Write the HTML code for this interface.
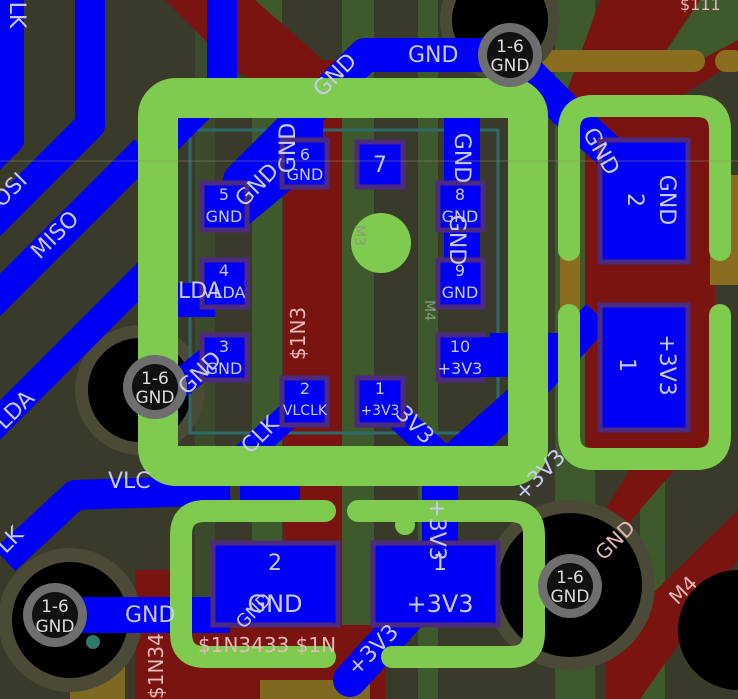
<!DOCTYPE html>
<html><head><meta charset="utf-8"><style>
html,body{margin:0;padding:0;background:#3a3a2b;}
svg{display:block;}
text{font-family:"DejaVu Sans","Liberation Sans",sans-serif;fill:#c9c9f2;}
</style></head><body>
<svg width="738" height="699" viewBox="0 0 738 699" xmlns="http://www.w3.org/2000/svg">
<rect width="738" height="699" fill="#3a3a2b"/>
<rect x="252" y="0" width="30" height="699" fill="#3e5a2d"/>
<rect x="342" y="0" width="32" height="699" fill="#3e5a2d"/>
<rect x="418" y="0" width="20" height="699" fill="#3e5a2d"/>
<rect x="195" y="0" width="20" height="699" fill="#3e5a2d" opacity="0.5"/>
<rect x="555" y="0" width="40" height="699" fill="#3e5a2d"/>
<rect x="640" y="420" width="25" height="279" fill="#3e5a2d"/>
<polygon points="165,0 255,0 340,75 300,110 235,70" fill="#7a1410"/>
<rect x="283" y="60" width="59" height="639" fill="#7a1410"/>
<polygon points="600,0 738,0 738,60 660,110 560,110" fill="#7a1410"/>
<rect x="585" y="110" width="130" height="340" fill="#7a1410"/>
<polygon points="700,0 738,0 738,40 700,60 660,60" fill="#3e5a2d"/>
<polygon points="630,470 660,440 700,440 580,580 560,580" fill="#7a1410"/>
<polygon points="738,510 738,560 640,699 605,699 605,640" fill="#7a1410"/>
<rect x="135" y="570" width="50" height="129" fill="#7a1410"/>
<rect x="185" y="625" width="200" height="74" fill="#7a1410"/>
<rect x="540" y="50" width="165" height="22" rx="11" fill="#8a6d1e"/>
<rect x="715" y="50" width="30" height="22" rx="11" fill="#8a6d1e"/>
<rect x="560" y="175" width="20" height="210" fill="#8a6d1e"/>
<rect x="710" y="175" width="28" height="110" fill="#8a6d1e"/>
<rect x="70" y="665" width="55" height="34" fill="#7d6a20"/>
<rect x="260" y="680" width="110" height="19" fill="#7d6a20"/>
<circle cx="500" cy="20" r="60" fill="#4a4a36"/>
<circle cx="500" cy="20" r="48" fill="#000"/>
<circle cx="140" cy="390" r="65" fill="#4a4a36"/>
<circle cx="140" cy="390" r="52" fill="#000"/>
<circle cx="70" cy="620" r="72" fill="#4a4a36"/>
<circle cx="70" cy="620" r="58" fill="#000"/>
<circle cx="570" cy="585" r="85" fill="#4a4a36"/>
<circle cx="570" cy="585" r="72" fill="#000"/>
<circle cx="738" cy="630" r="60" fill="#000"/>
<circle cx="93" cy="642" r="7" fill="#2e7a66"/>
<rect x="190" y="130" width="308" height="303" fill="none" stroke="#2d6a6a" stroke-width="3"/>
<circle cx="493" cy="433" r="8" fill="#2d6a6a"/>
<g stroke="#0000f5" fill="none" stroke-linejoin="round">
<polyline points="10,0 10,140 -20,170" stroke-width="28"/>
<polyline points="90,0 90,125 -10,225" stroke-width="30"/>
<polyline points="145,150 -10,305" stroke-width="30"/>
<polyline points="150,270 -10,430" stroke-width="28"/>
<polyline points="222,0 222,90" stroke-width="30"/>
<polyline points="490,55 365,55 240,180" stroke-width="34" stroke-linecap="round"/>
<polyline points="510,55 580,125 640,180" stroke-width="34"/>
<polyline points="305,110 305,165" stroke-width="36"/>
<polyline points="300,165 240,215" stroke-width="26"/>
<polyline points="462,110 462,290" stroke-width="36"/>
<polyline points="215,300 175,300" stroke-width="34"/>
<polyline points="215,355 160,400" stroke-width="28"/>
<polyline points="5,560 75,495 230,490" stroke-width="30"/>
<polyline points="240,490 300,490" stroke-width="30"/>
<polyline points="300,405 240,460" stroke-width="26"/>
<polyline points="385,405 445,460" stroke-width="26"/>
<polyline points="440,470 440,560" stroke-width="36"/>
<polyline points="598,315 520,400 430,480" stroke-width="32"/>
<polyline points="490,350 560,350" stroke-width="34"/>
<polyline points="60,615 230,615" stroke-width="36"/>
<polyline points="450,570 350,680" stroke-width="34" stroke-linecap="round"/>
</g>
<polygon points="178,118 210,118 178,150" fill="#0000f5"/>
<g fill="#0000f5" stroke="#4b2a80" stroke-width="5">
<rect x="282" y="140" width="45" height="47"/>
<rect x="357" y="142" width="46" height="45"/>
<rect x="202" y="183" width="45" height="47"/>
<rect x="438" y="183" width="45" height="47"/>
<rect x="202" y="260" width="45" height="47"/>
<rect x="438" y="260" width="45" height="47"/>
<rect x="202" y="335" width="45" height="45"/>
<rect x="438" y="335" width="45" height="45"/>
<rect x="282" y="378" width="45" height="47"/>
<rect x="357" y="378" width="46" height="47"/>
<rect x="600" y="140" width="88" height="122"/>
<rect x="600" y="305" width="88" height="125"/>
<rect x="213" y="543" width="125" height="82"/>
<rect x="373" y="543" width="125" height="82"/>
</g>
<rect x="480" y="337" width="30" height="40" fill="#0000f5"/>
<g fill="none" stroke="#7ecb50" stroke-linecap="round">
<rect x="158" y="98" width="370" height="368" rx="18" stroke-width="40"/>
<path d="M569,250 V130 Q569,106 593,106 H696 Q720,106 720,130 V250" stroke-width="22"/>
<path d="M569,315 V435 Q569,459 593,459 H696 Q720,459 720,435 V315" stroke-width="22"/>
<path d="M325,511 H205 Q181,511 181,535 V633 Q181,657 205,657 H325" stroke-width="22"/>
<path d="M358,511 H510 Q534,511 534,535 V633 Q534,657 510,657 H392" stroke-width="22"/>
</g>
<circle cx="381" cy="243" r="30" fill="#7ecb50"/>
<circle cx="405" cy="525" r="10" fill="#7ecb50"/>
<g>
<circle cx="510" cy="55" r="32" fill="#6e6e6e"/><circle cx="510" cy="55" r="23" fill="#111"/>
<circle cx="155" cy="387" r="32" fill="#6e6e6e"/><circle cx="155" cy="387" r="23" fill="#111"/>
<circle cx="55" cy="615" r="32" fill="#6e6e6e"/><circle cx="55" cy="615" r="23" fill="#111"/>
<circle cx="570" cy="586" r="32" fill="#6e6e6e"/><circle cx="570" cy="586" r="23" fill="#111"/>
</g>
<g text-anchor="middle" font-size="17">
<text x="510" y="52" style="fill:#ddd">1-6</text><text x="510" y="71" style="fill:#ddd">GND</text>
<text x="155" y="384" style="fill:#ddd">1-6</text><text x="155" y="403" style="fill:#ddd">GND</text>
<text x="55" y="612" style="fill:#ddd">1-6</text><text x="55" y="632" style="fill:#ddd">GND</text>
<text x="570" y="583" style="fill:#ddd">1-6</text><text x="570" y="602" style="fill:#ddd">GND</text>
</g>
<g text-anchor="middle" font-size="16">
<text x="305" y="160">6</text><text x="305" y="180">GND</text>
<text x="380" y="172" font-size="22">7</text>
<text x="224" y="200">5</text><text x="224" y="222">GND</text>
<text x="460" y="200">8</text><text x="460" y="222">GND</text>
<text x="224" y="276">4</text><text x="224" y="298">VLDA</text>
<text x="460" y="276">9</text><text x="460" y="298">GND</text>
<text x="224" y="352">3</text><text x="224" y="374">GND</text>
<text x="460" y="352">10</text><text x="460" y="374">+3V3</text>
<text x="305" y="394">2</text><text x="305" y="415" font-size="14">VLCLK</text>
<text x="380" y="394">1</text><text x="380" y="415" font-size="14">+3V3</text>
<text x="275" y="570" font-size="22">2</text><text x="275" y="612" font-size="24">GND</text>
<text x="440" y="570" font-size="22">1</text><text x="440" y="612" font-size="24">+3V3</text>
</g>
<g font-size="22">
<text x="408" y="62">GND</text>
<text x="125" y="622">GND</text>
<text x="108" y="488">VLC</text>
<text x="178" y="298">LDA</text>
<text transform="translate(628,200) rotate(90)" text-anchor="middle">2</text>
<text transform="translate(660,200) rotate(90)" text-anchor="middle">GND</text>
<text transform="translate(620,365) rotate(90)" text-anchor="middle">1</text>
<text transform="translate(660,365) rotate(90)" text-anchor="middle">+3V3</text>
<text transform="translate(295,148) rotate(-90)" text-anchor="middle">GND</text>
<text transform="translate(455,158) rotate(90)" text-anchor="middle">GND</text>
<text transform="translate(450,240) rotate(90)" text-anchor="middle">GND</text>
<text transform="translate(430,530) rotate(90)" text-anchor="middle">+3V3</text>
<text transform="translate(262,190) rotate(-45)" text-anchor="middle">GND</text>
<text transform="translate(340,80) rotate(-45)" text-anchor="middle">GND</text>
<text transform="translate(205,378) rotate(-45)" text-anchor="middle">GND</text>
<text transform="translate(265,440) rotate(-45)" text-anchor="middle">CLK</text>
<text transform="translate(410,430) rotate(45)" text-anchor="middle">3V3</text>
<text transform="translate(545,480) rotate(-45)" text-anchor="middle">+3V3</text>
<text transform="translate(378,655) rotate(-45)" text-anchor="middle">+3V3</text>
<text transform="translate(595,155) rotate(60)" text-anchor="middle">GND</text>
<text transform="translate(60,240) rotate(-45)" text-anchor="middle">MISO</text>
<text transform="translate(15,195) rotate(-45)" text-anchor="middle">OSI</text>
<text transform="translate(20,415) rotate(-45)" text-anchor="middle">LDA</text>
<text transform="translate(15,545) rotate(-45)" text-anchor="middle">LK</text>
<text transform="translate(10,15) rotate(90)" text-anchor="middle">LK</text>
<text transform="translate(258,615) rotate(-45)" text-anchor="middle" font-size="18">GND</text>
</g>
<g font-size="20">
<text transform="translate(620,545) rotate(-45)" text-anchor="middle" style="fill:#e6b8b8">GND</text>
<text transform="translate(688,595) rotate(-45)" text-anchor="middle" style="fill:#e6b8b8">M4</text>
<text transform="translate(305,360) rotate(-90)" style="fill:#e6b8b8">$1N3</text>
<text x="198" y="652" style="fill:#e6b8b8">$1N3433 $1N</text>
<text transform="translate(163,699) rotate(-90)" style="fill:#e6b8b8">$1N34</text>
<text x="680" y="10" font-size="16" style="fill:#e6b8b8">$111</text>
</g>
<text transform="translate(355,225) rotate(90)" font-size="14" style="fill:#8a9a7a">M3</text>
<text transform="translate(425,300) rotate(90)" font-size="14" style="fill:#8a9a7a">M4</text>
<line x1="0" y1="161" x2="738" y2="161" stroke="#8a8a6a" stroke-width="1" opacity="0.5"/>
</svg>
</body></html>
